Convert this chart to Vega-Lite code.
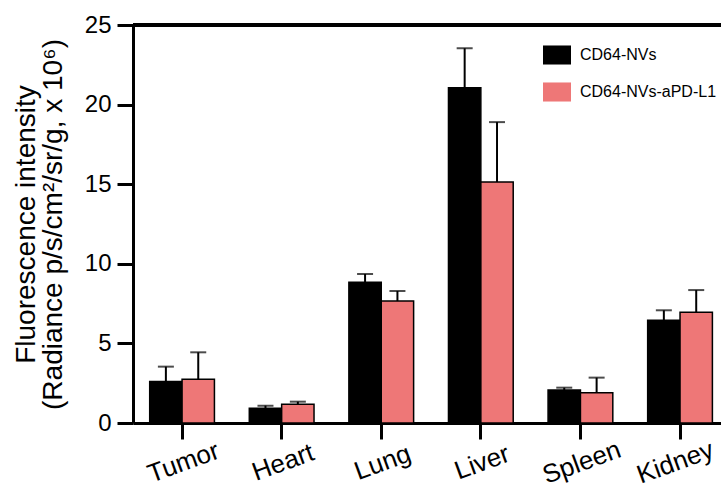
{
  "$schema": "https://vega.github.io/schema/vega-lite/v6.json",
  "width": 588,
  "height": 398,
  "autosize": {"type": "none"},
  "padding": {"left": 133, "top": 25, "right": 0, "bottom": 67},
  "background": "white",
  "config": {
    "view": {"stroke": null},
    "font": "Liberation Sans",
    "axis": {"grid": false, "domainColor": "black", "tickColor": "black", "labelColor": "black", "titleColor": "black", "labelFont": "Liberation Sans", "titleFont": "Liberation Sans"}
  },
  "data": {
    "values": [
      {"organ": "Tumor", "group": "CD64-NVs", "value": 2.6, "upper": 3.54},
      {"organ": "Tumor", "group": "CD64-NVs-aPD-L1", "value": 2.75, "upper": 4.44},
      {"organ": "Heart", "group": "CD64-NVs", "value": 0.92, "upper": 1.09},
      {"organ": "Heart", "group": "CD64-NVs-aPD-L1", "value": 1.17, "upper": 1.34},
      {"organ": "Lung", "group": "CD64-NVs", "value": 8.84, "upper": 9.36},
      {"organ": "Lung", "group": "CD64-NVs-aPD-L1", "value": 7.66, "upper": 8.29},
      {"organ": "Liver", "group": "CD64-NVs", "value": 21.06, "upper": 23.54},
      {"organ": "Liver", "group": "CD64-NVs-aPD-L1", "value": 15.14, "upper": 18.9},
      {"organ": "Spleen", "group": "CD64-NVs", "value": 2.07, "upper": 2.22},
      {"organ": "Spleen", "group": "CD64-NVs-aPD-L1", "value": 1.9, "upper": 2.85},
      {"organ": "Kidney", "group": "CD64-NVs", "value": 6.45, "upper": 7.08},
      {"organ": "Kidney", "group": "CD64-NVs-aPD-L1", "value": 6.95, "upper": 8.35}
    ]
  },
  "encoding": {
    "x": {
      "field": "organ", "type": "nominal",
      "sort": ["Tumor", "Heart", "Lung", "Liver", "Spleen", "Kidney"],
      "scale": {"paddingInner": 0.35, "paddingOuter": 0.127, "align": 0.66},
      "axis": {
        "title": null, "domainWidth": 3, "tickWidth": 3, "tickSize": 16,
        "labelAngle": -20, "labelAlign": "center", "labelBaseline": "top", "labelFontSize": 26, "labelPadding": 11,
        "labelOffset": {"condition": {"test": "datum.value === 'Kidney'", "value": -9}, "value": -3}
      }
    },
    "xOffset": {
      "field": "group", "type": "nominal",
      "sort": ["CD64-NVs", "CD64-NVs-aPD-L1"],
      "scale": {"paddingInner": 0, "paddingOuter": 0}
    }
  },
  "layer": [
    {
      "mark": {"type": "bar", "stroke": "black", "strokeWidth": 1.5},
      "encoding": {
        "y": {
          "field": "value", "type": "quantitative",
          "scale": {"domain": [0, 25], "nice": false},
          "axis": {
            "title": ["Fluorescence intensity", "(Radiance p/s/cm²/sr/g, x 10⁶)"],
            "titleFontSize": 28, "titleFontWeight": "normal", "titleLineHeight": 27, "titlePadding": 17,
            "values": [0, 5, 10, 15, 20, 25],
            "domainWidth": 3, "tickWidth": 3, "tickSize": 16, "labelFontSize": 24, "labelPadding": 6
          }
        },
        "color": {
          "field": "group", "type": "nominal",
          "sort": ["CD64-NVs", "CD64-NVs-aPD-L1"],
          "scale": {"domain": ["CD64-NVs", "CD64-NVs-aPD-L1"], "range": ["#000000", "#EE7777"]},
          "legend": {
            "title": null, "orient": "none", "legendX": 410, "legendY": 16,
            "padding": 0, "offset": 0,
            "symbolType": "M-1,-0.68H1V0.68H-1Z", "symbolSize": 784, "symbolStrokeWidth": 0,
            "labelFontSize": 16, "labelOffset": 9, "rowPadding": 13, "labelColor": "black", "labelFont": "Liberation Sans"
          }
        }
      }
    },
    {
      "mark": {"type": "rule", "color": "black", "strokeWidth": 2},
      "encoding": {
        "y": {"field": "value", "type": "quantitative"},
        "y2": {"field": "upper"}
      }
    },
    {
      "mark": {"type": "tick", "color": "black", "thickness": 2, "size": 16, "orient": "horizontal"},
      "encoding": {
        "y": {"field": "upper", "type": "quantitative"}
      }
    },
    {
      "mark": {"type": "rule", "color": "black", "strokeWidth": 3},
      "encoding": {
        "x": null,
        "xOffset": null,
        "y": {"datum": 25, "type": "quantitative"}
      }
    }
  ]
}
